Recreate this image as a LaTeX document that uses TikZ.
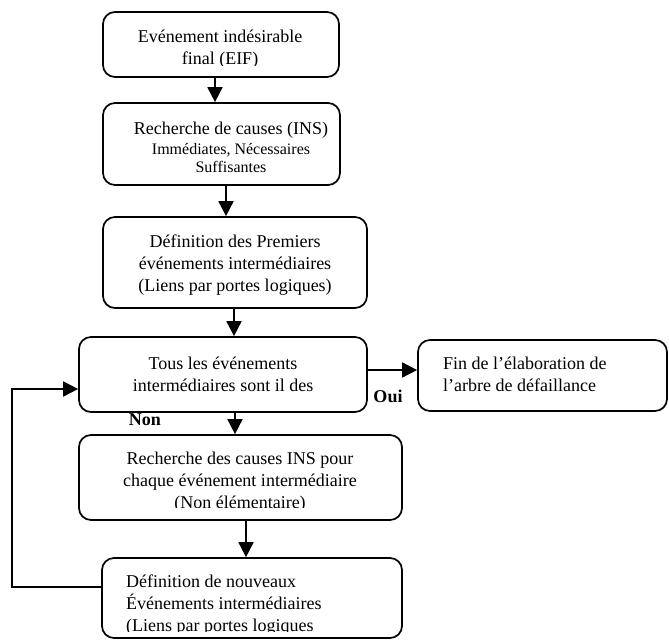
\documentclass[tikz,border=0pt]{standalone}
\usepackage{fontspec}
\setmainfont{Liberation Serif}
\usetikzlibrary{arrows.meta}
\begin{document}
\begin{tikzpicture}[x=1pt,y=1pt,
  box/.style={draw, line width=1.7pt, rounded corners=12pt, inner sep=0pt},
  txt/.style={inner sep=0pt, align=center, font=\fontsize{18}{22}\selectfont},
  txtl/.style={inner sep=0pt, align=left, anchor=west, font=\fontsize{18}{22}\selectfont},
  small/.style={inner sep=0pt, font=\fontsize{16}{18}\selectfont},
  lbl/.style={inner sep=0pt, font=\fontsize{18}{22}\selectfont\bfseries},
  arr/.style={line width=1.7pt, -{Triangle[length=15pt,width=15pt]}}
]
\useasboundingbox (0,0) rectangle (669,-640);

% boxes of the flow chart
\node[box, minimum width=236pt, minimum height=65pt] (b1) at (221,-44.5) {};
\node[box, minimum width=237pt, minimum height=82pt] (b2) at (221.5,-144) {};
\node[box, minimum width=264pt, minimum height=91pt] (b3) at (235,-262.5) {};
\node[box, minimum width=288pt, minimum height=75pt] (b4) at (223,-374.5) {};
\node[box, minimum width=249pt, minimum height=71pt] (b5) at (542.5,-375.5) {};
\node[box, minimum width=323pt, minimum height=85pt] (b6) at (240.5,-477.5) {};
\node[box, minimum width=300pt, minimum height=80pt] (b7) at (252,-598) {};

% box texts (the lower lines of some boxes are cut by the frame)
\begin{scope}
  \clip (b1.north west) rectangle ([yshift=12.5pt]b1.south east);
  \node[txt] (t1) at (220,-49) {Evénement indésirable\\final (EIF)};
\end{scope}
\node[txt] (t2a) at (231,-130) {Recherche de causes (INS)};
\node[small] (t2b) at (231,-150) {Immédiates, Nécessaires};
\node[small] (t2c) at (231,-167) {Suffisantes};
\node[txt] (t3) at (235,-265) {Définition des Premiers\\événements intermédiaires\\(Liens par portes logiques)};
\node[txt] (t4) at (223,-374) {Tous les événements\\intermédiaires sont il des};
\node[txtl] (t5) at (443,-374) {Fin de l’élaboration de\\l’arbre de défaillance};
\begin{scope}
  \clip (b6.north west) rectangle ([yshift=13pt]b6.south east);
  \node[txt] (t6) at (240,-482) {Recherche des causes INS pour\\chaque événement intermédiaire\\(Non élémentaire)};
\end{scope}
\begin{scope}
  \clip (b7.north west) rectangle ([yshift=7pt]b7.south east);
  \node[txtl] (t7) at (126,-605) {Définition de nouveaux\\Événements intermédiaires\\(Liens par portes logiques};
\end{scope}

% branch labels
\node[lbl] (non) at (145,-420) {Non};
\node[lbl] (oui) at (388,-396) {Oui};

% connectors
\draw[arr] ([xshift=-6pt]b1.south) -- ([xshift=-6pt]b1.south |- b2.north);
\draw[arr] ([xshift=4.5pt]b2.south) -- ([xshift=4.5pt]b2.south |- b3.north);
\draw[arr] ([xshift=-1pt]b3.south) -- ([xshift=-1pt]b3.south |- b4.north);
\draw[arr] ([xshift=12pt]b4.south) -- ([xshift=12pt]b4.south |- b6.north);
\draw[arr] ([xshift=5.5pt]b6.south) -- ([xshift=5.5pt]b6.south |- b7.north);
\draw[arr] ([yshift=4.5pt]b4.east) -- ([yshift=4.5pt]b4.east -| b5.west);

% loop back from the new events to the test
\coordinate (loop) at (12,-500);
\coordinate (b4in) at ([yshift=-14.5pt]b4.west);
\draw[arr] ([yshift=11pt]b7.west) -| (loop) |- (b4in);
\end{tikzpicture}
\end{document}
